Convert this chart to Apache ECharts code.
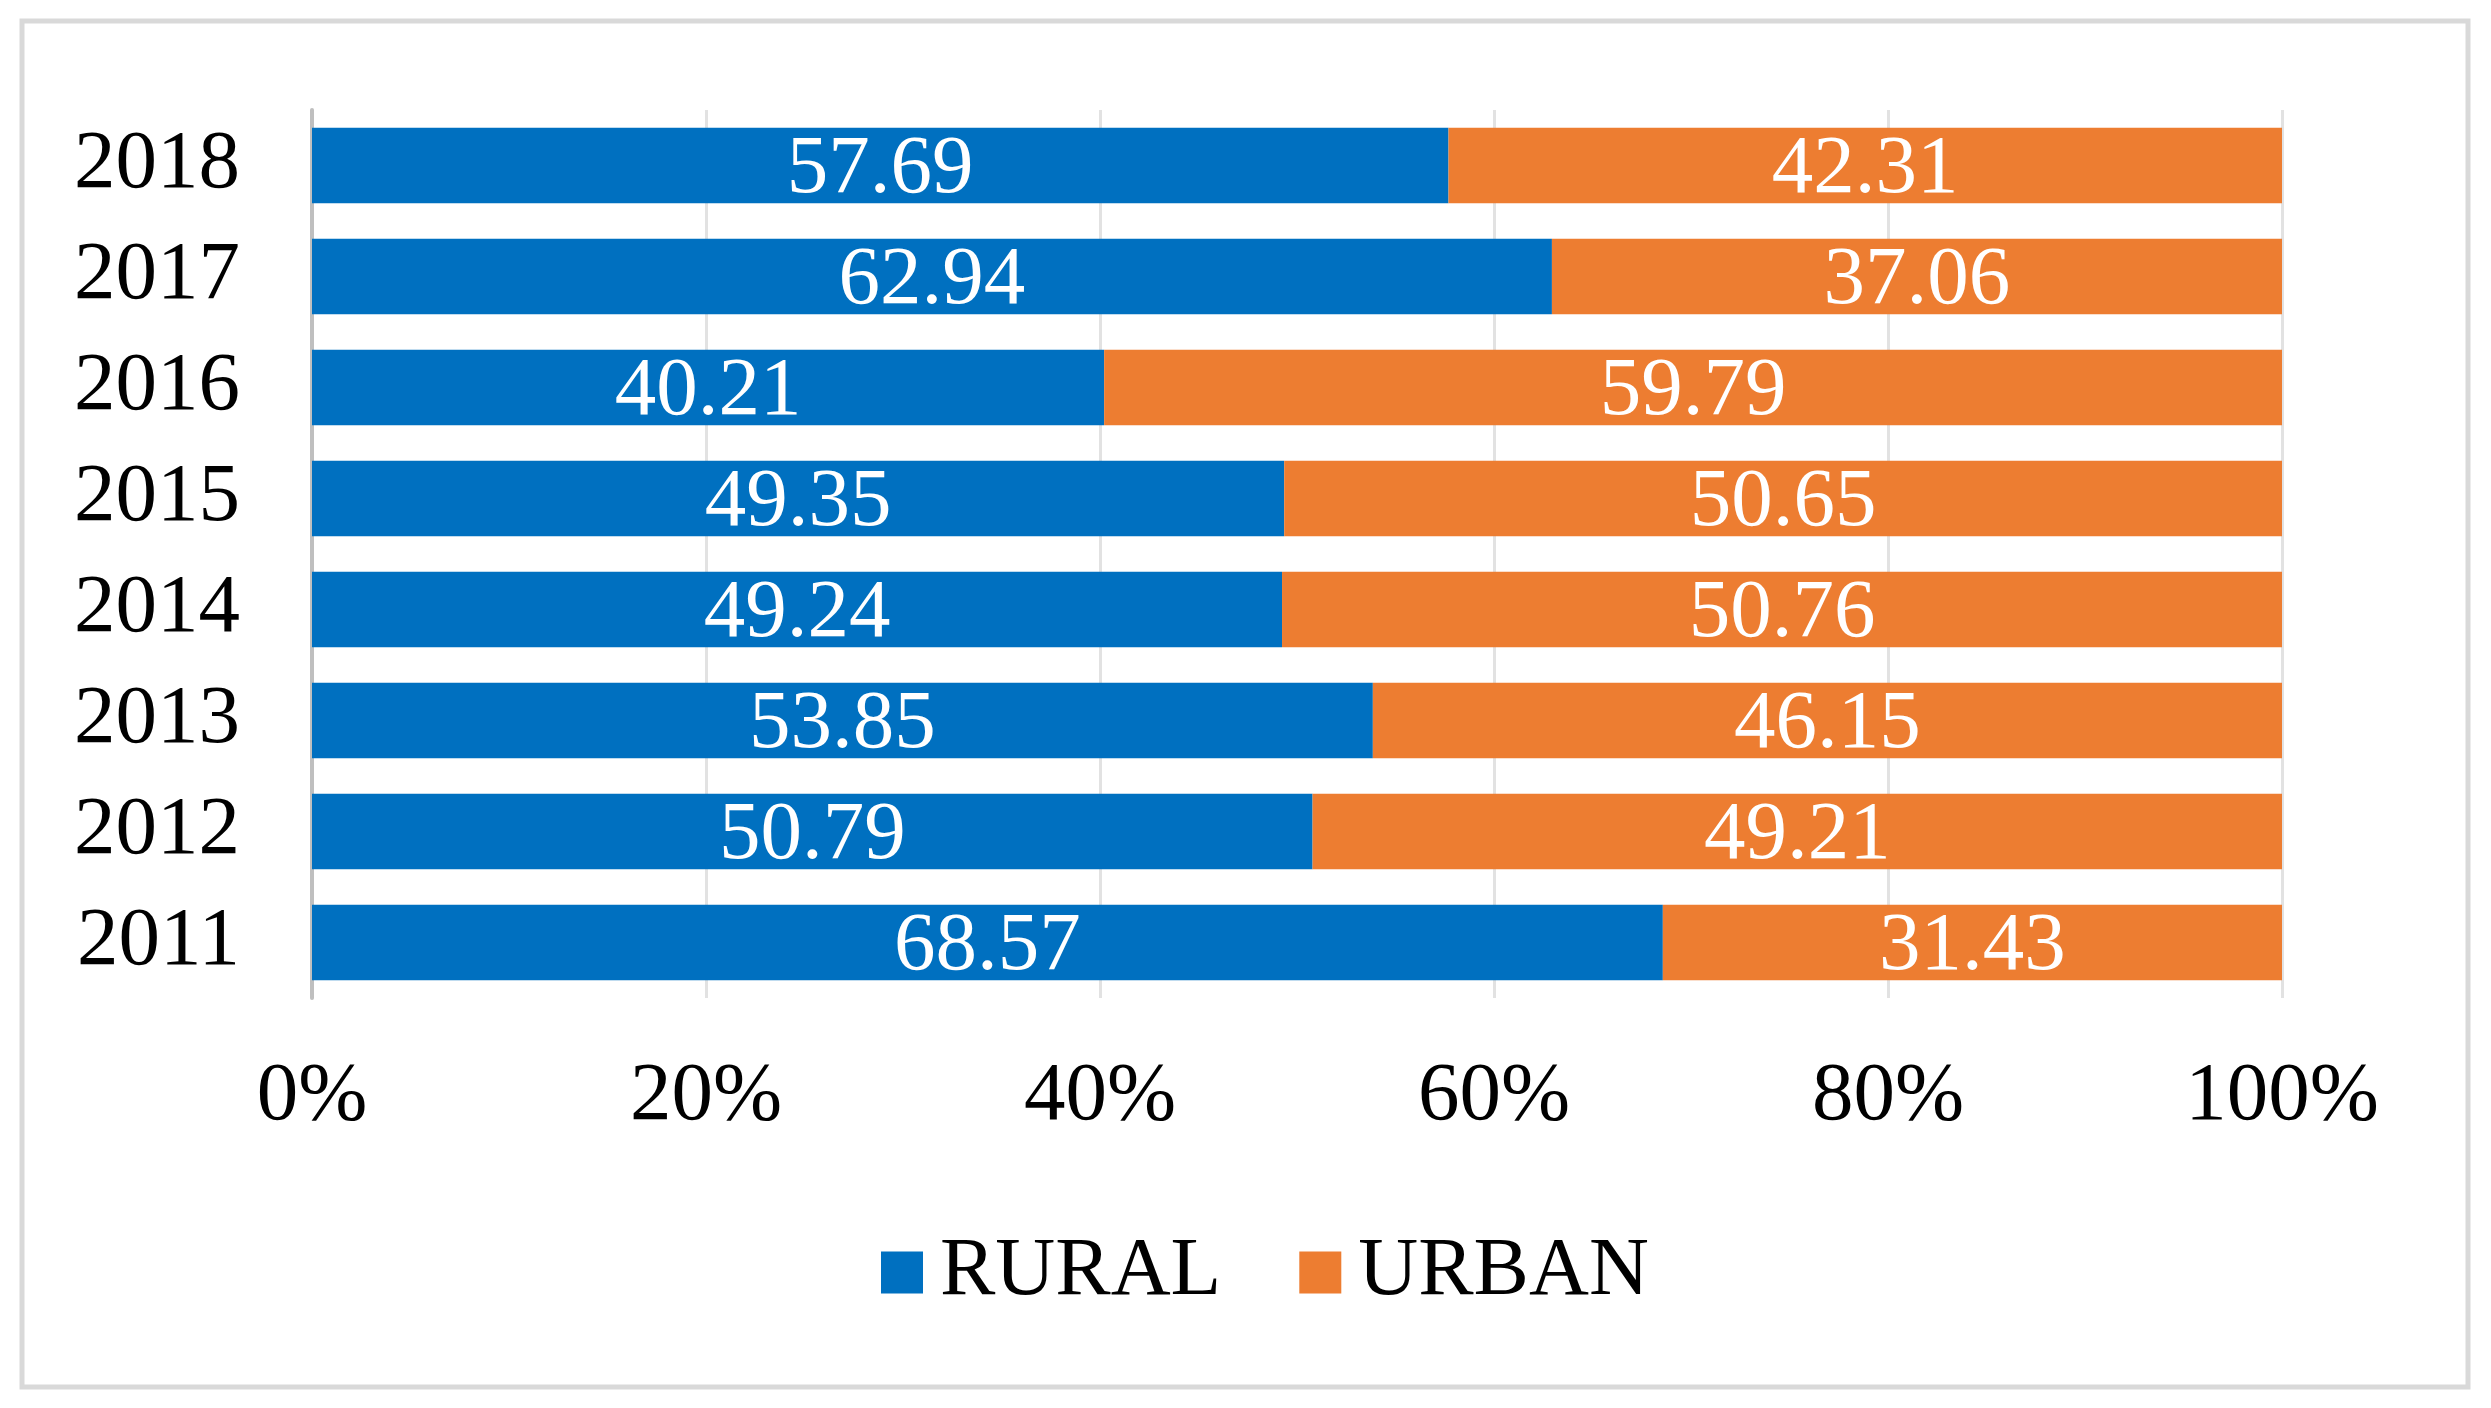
<!DOCTYPE html>
<html>
<head>
<meta charset="utf-8">
<script src="https://cdn.jsdelivr.net/npm/echarts@6/dist/echarts.min.js"></script>
<style>html,body{margin:0;padding:0;background:#fff}#c{width:2491px;height:1408px}</style>
</head>
<body>
<div id="c"></div>
<script>
const years = ['2011','2012','2013','2014','2015','2016','2017','2018'];
const rural = [68.57, 50.79, 53.85, 49.24, 49.35, 40.21, 62.94, 57.69];
const urban = [31.43, 49.21, 46.15, 50.76, 50.65, 59.79, 37.06, 42.31];
const xTicks = [0, 20, 40, 60, 80, 100];

const FONT = '"Liberation Serif", "Times New Roman", serif';
const FS = 83;
const chart = echarts.init(document.getElementById('c'));
const lbl = {
  show: true, position: 'inside', color: '#fff', fontSize: FS, fontFamily: FONT,
  offset: [0, 5],
  formatter: p => p.value.toFixed(2)
};
chart.setOption({
  animation: false,
  backgroundColor: '#fff',
  graphic: [{
    type: 'rect', shape: {x: 22, y: 21, width: 2446, height: 1366},
    style: {fill: 'none', stroke: '#D9D9D9', lineWidth: 5}, silent: true, z: -1
  }],
  grid: {left: 312, right: 209, top: 110, bottom: 410},
  legend: {
    data: ['RURAL', 'URBAN'], left: 876, top: 1226,
    itemWidth: 42, itemHeight: 42, itemGap: 78,
    icon: 'rect',
    textStyle: {fontSize: FS, fontFamily: FONT, color: '#000', padding: [0, 0, 0, 12]}
  },
  xAxis: {
    type: 'value', min: 0, max: 100, interval: 20,
    axisLine: {show: false}, axisTick: {show: false},
    splitLine: {lineStyle: {color: '#E2E2E2', width: 3}},
    axisLabel: {
      fontSize: FS, fontFamily: FONT, color: '#000', margin: 58,
      formatter: v => xTicks.includes(v) ? v + '%' : ''
    }
  },
  yAxis: {
    type: 'category', data: years,
    axisLine: {show: true, lineStyle: {color: '#BFBFBF', width: 4}},
    axisTick: {show: false},
    axisLabel: {fontSize: FS, fontFamily: FONT, color: '#000', margin: 72}
  },
  series: [
    {name: 'RURAL', type: 'bar', stack: 'a', data: rural, barCategoryGap: '32%',
     itemStyle: {color: '#0070C0'}, label: lbl},
    {name: 'URBAN', type: 'bar', stack: 'a', data: urban,
     itemStyle: {color: '#ED7D31'}, label: lbl}
  ]
});
</script>
</body>
</html>
